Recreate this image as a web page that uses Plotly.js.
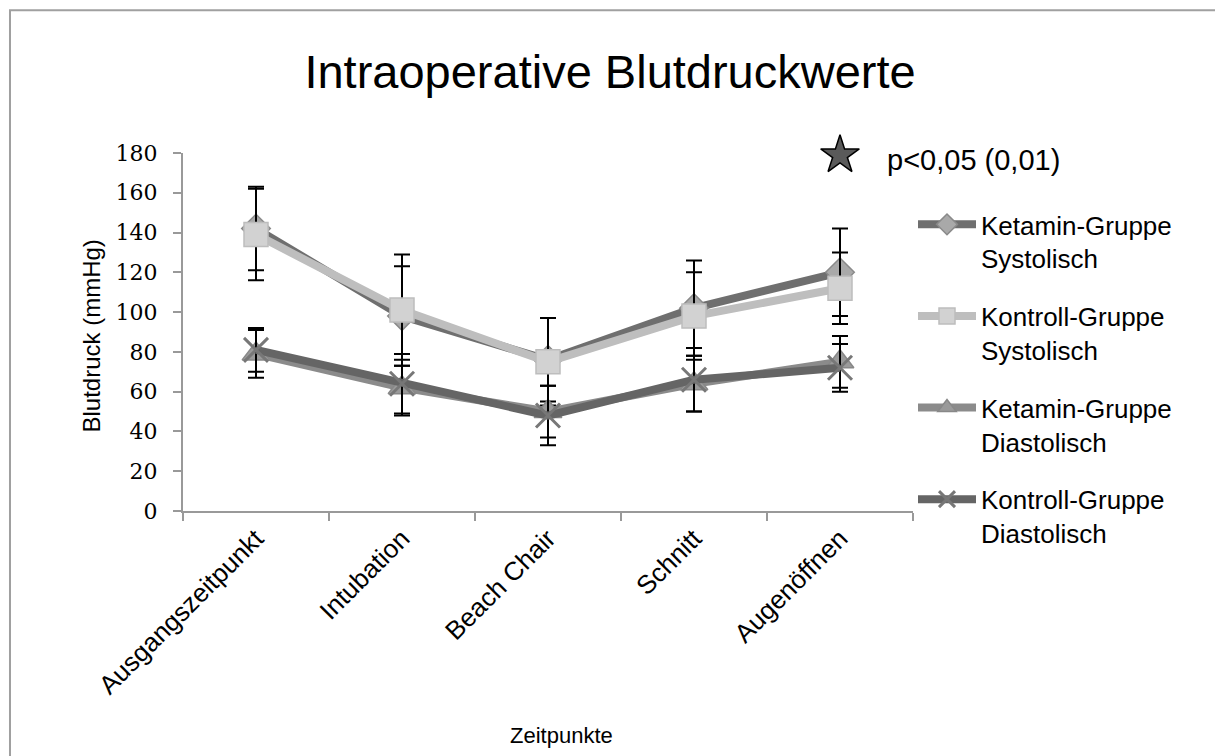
<!DOCTYPE html>
<html>
<head>
<meta charset="utf-8">
<script src="https://cdn.plot.ly/plotly-3.0.1.min.js"></script>
<style>html,body{margin:0;padding:0;background:#fff;}#chart{width:1215px;height:756px;}</style>
</head>
<body>
<div id="chart"></div>
<script>
var categories = ["Ausgangszeitpunkt", "Intubation", "Beach Chair", "Schnitt", "Augenöffnen"];
var seriesNames = ["Ketamin-Gruppe<br>Systolisch", "Kontroll-Gruppe<br>Systolisch", "Ketamin-Gruppe<br>Diastolisch", "Kontroll-Gruppe<br>Diastolisch"];
var ketaminSys = [142, 98, 76, 102, 120];
var ketaminSysSD = [21, 25, 21, 24, 22];
var kontrollSys = [139, 101, 75, 98, 112];
var kontrollSysSD = [23, 28, 22, 22, 18];
var ketaminDia = [79, 62, 50, 64, 75];
var ketaminDiaSD = [12, 14, 13, 14, 13];
var kontrollDia = [81, 64, 48, 66, 72];
var kontrollDiaSD = [11, 15, 15, 16, 12];
var yTicks = [0, 20, 40, 60, 80, 100, 120, 140, 160, 180];
var starLabel = "p<0,05 (0,01)";
var starX = [0.9];
var starY = [0.994];

function mk(name, y, sd, lineColor, lineWidth, symbol, mSize, mColor, mLineColor, mLineWidth, group) {
  return {
    type: 'scatter', mode: 'lines+markers', name: name, x: categories, y: y,
    legendgroup: group,
    line: {color: lineColor, width: lineWidth},
    marker: {symbol: symbol, size: mSize, color: mColor, line: {color: mLineColor, width: mLineWidth}},
    error_y: {type: 'data', array: sd, visible: true, color: '#000', thickness: 2, width: 8},
    cliponaxis: false
  };
}

var traces = [
  mk(seriesNames[0], ketaminSys, ketaminSysSD, '#6f6f6f', 8, 'diamond', 22, '#a9a9a9', '#8a8a8a', 1.5, 'g1'),
  mk(seriesNames[1], kontrollSys, kontrollSysSD, '#bebebe', 8, 'square', 24, '#d2d2d2', '#bdbdbd', 1.5, 'g2'),
  mk(seriesNames[2], ketaminDia, ketaminDiaSD, '#8b8b8b', 8, 'triangle-up', 24, '#9a9a9a', '#888888', 1.5, 'g3'),
  mk(seriesNames[3], kontrollDia, kontrollDiaSD, '#656565', 8, 'x-thin-open', 24, '#777777', '#777777', 3, 'g4'),
  {
    type: 'scatter', mode: 'markers', x: starX, y: starY, xaxis: 'x2', yaxis: 'y2',
    showlegend: false, cliponaxis: false, hoverinfo: 'skip',
    marker: {symbol: 'star', size: 29, color: '#5a5a5a', line: {color: '#000', width: 1.5}}
  }
];

var sans = 'Liberation Sans, Arial, sans-serif';
var layout = {
  width: 1215, height: 756,
  margin: {l: 183, r: 302, t: 153, b: 245},
  paper_bgcolor: '#fff', plot_bgcolor: '#fff',
  font: {family: sans, color: '#000'},
  title: {text: 'Intraoperative Blutdruckwerte', font: {size: 47, family: sans, color: '#000'},
    x: 0.585, xanchor: 'center', y: 0.905, yanchor: 'middle', xref: 'paper', yref: 'container'},
  xaxis: {
    type: 'category', range: [-0.5, 4.5], showgrid: false, zeroline: false,
    showline: true, linecolor: '#999', linewidth: 2,
    ticks: 'outside', tickson: 'boundaries', ticklen: 8, tickcolor: '#999', tickwidth: 2,
    tickangle: -45, tickfont: {size: 26, family: sans}
  },
  yaxis: {
    range: [0, 180], tickvals: yTicks, showgrid: false, zeroline: false,
    showline: true, linecolor: '#999', linewidth: 2,
    ticks: 'outside', ticklen: 8, tickcolor: '#999', tickwidth: 2, ticklabelstandoff: 11,
    tickfont: {size: 22, family: 'DejaVu Serif, serif'}
  },
  xaxis2: {overlaying: 'x', range: [0, 1], visible: false},
  yaxis2: {overlaying: 'y', range: [0, 1], visible: false},
  showlegend: true,
  legend: {x: 1.0, xanchor: 'left', y: 0.866, yanchor: 'top', valign: 'top', itemwidth: 58,
    font: {size: 26, family: sans}, tracegroupgap: 21,
    bgcolor: 'rgba(0,0,0,0)', itemclick: false},
  annotations: [
    {xref: 'paper', yref: 'paper', x: 0.518, y: -0.626, text: 'Zeitpunkte', showarrow: false,
      font: {size: 22}, xanchor: 'center', yanchor: 'middle'},
    {xref: 'paper', yref: 'paper', x: -0.1247, y: 0.49, text: 'Blutdruck (mmHg)', showarrow: false,
      textangle: -90, font: {size: 24}, xanchor: 'center', yanchor: 'middle'},
    {xref: 'paper', yref: 'paper', x: 0.962, y: 0.98, text: starLabel, showarrow: false,
      font: {size: 29}, xanchor: 'left', yanchor: 'middle'}
  ],
  shapes: [
    {type: 'rect', xref: 'paper', yref: 'paper', x0: -0.237, x1: 2, y0: -1.5, y1: 1.399,
      line: {color: '#a0a0a0', width: 2}, fillcolor: 'rgba(0,0,0,0)', layer: 'below'}
  ]
};

Plotly.newPlot('chart', traces, layout, {displayModeBar: false, staticPlot: true});
</script>
</body>
</html>
